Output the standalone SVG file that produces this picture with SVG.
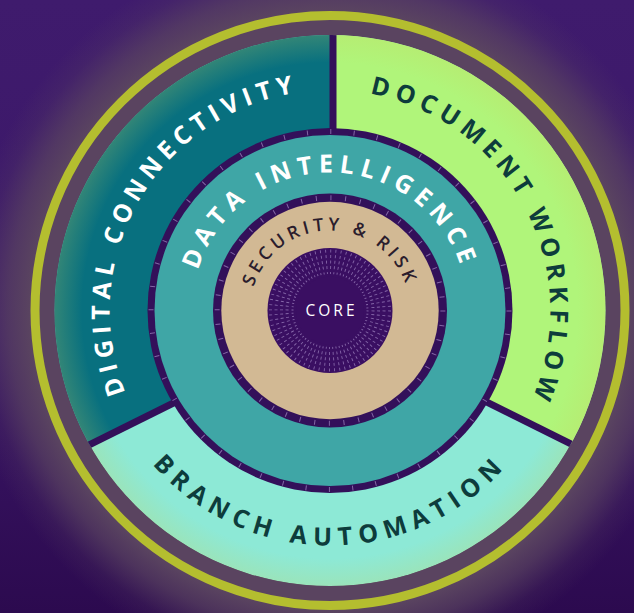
<svg xmlns="http://www.w3.org/2000/svg" width="634" height="613" viewBox="0 0 634 613">
  <style>
    .lbl { font-family: "Open Sans", "Lato", "Liberation Sans", sans-serif; font-weight: 700; font-size: 25px; letter-spacing: 5.5px; }
    .white { fill: #ffffff; }
    .dark { fill: #0d3c3c; }
    .sr { font-family: "Open Sans", "Lato", "Liberation Sans", sans-serif; font-weight: 600; font-size: 18px; letter-spacing: 4px; fill: #2b1d2d; }
    .core { font-family: "Open Sans", "Lato", "Liberation Sans", sans-serif; font-weight: 400; font-size: 15.5px; letter-spacing: 3px; fill: #ffffff; }
    .divider { stroke: #33105a; stroke-width: 7; fill: none; }
    .tick { fill: none; stroke: #a58cc6; stroke-opacity: 0.7; }
  </style>
  <defs>
    <linearGradient id="bg" x1="0" y1="0" x2="0" y2="1">
      <stop offset="0" stop-color="#3f1b6d"/>
      <stop offset="0.55" stop-color="#3b1768"/>
      <stop offset="1" stop-color="#2c0a4f"/>
    </linearGradient>
    <radialGradient id="glow" cx="330" cy="310.5" r="370" gradientUnits="userSpaceOnUse">
      <stop offset="0.74" stop-color="#5a4460"/>
      <stop offset="0.81" stop-color="#5a4460"/>
      <stop offset="0.87" stop-color="#5a4460" stop-opacity="0.7"/>
      <stop offset="0.94" stop-color="#5a4460" stop-opacity="0.2"/>
      <stop offset="1" stop-color="#5a4460" stop-opacity="0"/>
    </radialGradient>
    <radialGradient id="rim" cx="330" cy="310.5" r="275.5" gradientUnits="userSpaceOnUse">
      <stop offset="0.9" stop-color="#c8d25a" stop-opacity="0"/>
      <stop offset="1" stop-color="#c8d25a" stop-opacity="0.22"/>
    </radialGradient>
    <clipPath id="segclip">
      <circle cx="330" cy="310.5" r="275.5"/>
    </clipPath>
    <path id="pDC" d="M219.5,501.89 A221,221 0 0 1 440.5,119.11"/>
    <path id="pDW" d="M219.5,119.11 A221,221 0 0 1 440.5,501.89"/>
    <path id="pBA" d="M95,310.5 A235,235 0 0 0 565,310.5"/>
    <path id="pDI" d="M192,310.5 A138,138 0 0 1 468,310.5"/>
    <path id="pSR" d="M250,310.5 A80,80 0 0 1 410,310.5"/>
  </defs>

  <g id="background">
    <rect x="0" y="0" width="634" height="613" fill="url(#bg)"/>
    <circle cx="330" cy="310.5" r="370" fill="url(#glow)"/>
  </g>

  <g id="outer-ring">
    <circle cx="330" cy="310.5" r="295" fill="none" stroke="#b4be2f" stroke-width="9"/>
  </g>

  <g id="branch-automation" clip-path="url(#segclip)">
    <circle cx="330" cy="310.5" r="275.5" fill="#8de9d6"/>
  </g>
  <g id="digital-connectivity" clip-path="url(#segclip)">
    <polygon points="333,323.7 333,0 0,0 0,489.2" fill="#08707f"/>
  </g>
  <g id="document-workflow" clip-path="url(#segclip)">
    <polygon points="333,325.7 333,0 634,0 634,475.3" fill="#b0f57a"/>
  </g>
  <circle cx="330" cy="310.5" r="275.5" fill="url(#rim)"/>

  <g id="connectors" clip-path="url(#segclip)">
    <line class="divider" x1="333" y1="320" x2="333" y2="0"/>
    <line class="divider" x1="333" y1="323.7" x2="0" y2="489.2"/>
    <line class="divider" x1="333" y1="325.7" x2="634" y2="475.3"/>
  </g>

  <g id="data-intelligence">
    <circle cx="330" cy="310.5" r="182.5" fill="#33105a"/>
    <circle cx="330" cy="310.5" r="175.5" fill="#3fa6a6"/>
    <circle class="tick" cx="330" cy="310.5" r="179" stroke-width="5" stroke-dasharray="1 22.43"/>
  </g>

  <g id="security-risk">
    <circle cx="330" cy="310.5" r="117" fill="#33105a"/>
    <circle cx="330" cy="310.5" r="108.7" fill="#d2b994"/>
    <circle class="tick" cx="330" cy="310.5" r="112.85" stroke-width="5" stroke-dasharray="1 13.77"/>
  </g>

  <g id="core">
    <circle cx="330" cy="310.5" r="62.5" fill="#3a0f62"/>
    <circle class="tick" cx="330" cy="310.5" r="59.5" stroke-width="3" stroke-dasharray="0.9 4.29"/>
    <circle class="tick" cx="330" cy="310.5" r="54" stroke-width="3" stroke-dasharray="0.9 3.81"/>
    <circle class="tick" cx="330" cy="310.5" r="48.5" stroke-width="3" stroke-dasharray="0.9 3.33"/>
    <circle class="tick" cx="330" cy="310.5" r="43" stroke-width="3" stroke-dasharray="0.9 2.85"/>
    <circle class="tick" cx="330" cy="310.5" r="37.5" stroke-width="2" stroke-dasharray="0.9 2.37" stroke-opacity="0.4"/>
    <circle cx="330" cy="310.5" r="34" fill="#3a0f62"/>
    <text class="core" x="331.5" y="316" text-anchor="middle">CORE</text>
  </g>

  <g id="labels">
    <text class="lbl white"><textPath href="#pDC" startOffset="50%" text-anchor="middle">DIGITAL CONNECTIVITY</textPath></text>
    <text class="lbl dark" style="letter-spacing:5.8px" transform="rotate(2.4 330 310.5)"><textPath href="#pDW" startOffset="50%" text-anchor="middle">DOCUMENT WORKFLOW</textPath></text>
    <text class="lbl dark" style="letter-spacing:6.8px"><textPath href="#pBA" startOffset="50%" text-anchor="middle">BRANCH AUTOMATION</textPath></text>
    <text class="lbl white" style="letter-spacing:6px"><textPath href="#pDI" startOffset="50%" text-anchor="middle">DATA INTELLIGENCE</textPath></text>
    <text class="sr"><textPath href="#pSR" startOffset="50%" text-anchor="middle">SECURITY &amp; RISK</textPath></text>
  </g>
</svg>
